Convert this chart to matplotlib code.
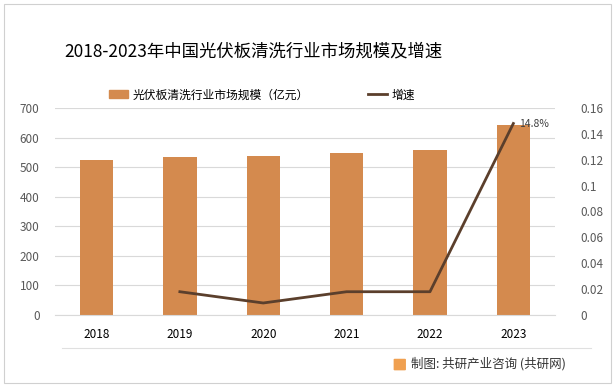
import matplotlib.pyplot as plt
import matplotlib.patches as mpatches
from matplotlib.lines import Line2D

plt.rcParams['font.family'] = ['Noto Sans CJK SC', 'DejaVu Sans']

years = ['2018', '2019', '2020', '2021', '2022', '2023']
scale = [524, 534, 538, 548, 558, 642]
growth_years = ['2019', '2020', '2021', '2022', '2023']
growth = [0.018, 0.0093, 0.018, 0.018, 0.148]

bar_color = '#D48A4E'
line_color = '#5B3F2C'
tick_color = '#595959'

fig = plt.figure(figsize=(6.16, 3.87), dpi=100)
ax = fig.add_axes([0.089, 0.186, 0.812, 0.535])
x = list(range(len(years)))
ax.bar(x, scale, width=0.4, color=bar_color, zorder=2)
ax.set_xlim(-0.5, len(years) - 0.5)
ax.set_ylim(0, 700)
ax.set_yticks(range(0, 701, 100))
ax.set_xticks(x)
ax.set_xticklabels(years, fontsize=8.5, color='black')
ax.tick_params(axis='y', labelsize=8.5, colors=tick_color, length=0, pad=11)
ax.tick_params(axis='x', length=0, pad=9)
ax.grid(axis='y', color='#D9D9D9', linewidth=0.8, zorder=0)
for s in ax.spines.values():
    s.set_visible(False)
ax.spines['bottom'].set_visible(True)
ax.spines['bottom'].set_color('#D9D9D9')

ax2 = ax.twinx()
gx = [years.index(y) for y in growth_years]
ax2.plot(gx, growth, color=line_color, linewidth=2, zorder=3)
ax2.set_ylim(0, 0.16)
ax2.set_yticks([0, 0.02, 0.04, 0.06, 0.08, 0.1, 0.12, 0.14, 0.16])
ax2.set_yticklabels(['0', '0.02', '0.04', '0.06', '0.08', '0.1', '0.12', '0.14', '0.16'])
ax2.tick_params(axis='y', labelsize=8.5, colors=tick_color, length=0, pad=18)
for s in ax2.spines.values():
    s.set_visible(False)
ax2.annotate('14.8%', (gx[-1], growth[-1]), xytext=(4, 0), textcoords='offset points',
             fontsize=7.5, color='#404040', va='center', ha='left')

fig.text(0.412, 0.868, '2018-2023年中国光伏板清洗行业市场规模及增速', fontsize=12.5,
         ha='center', va='center', color='black')

handles = [mpatches.Patch(color=bar_color, label='光伏板清洗行业市场规模（亿元）'),
           Line2D([0], [0], color=line_color, linewidth=2, label='增速')]
fig.legend(handles=handles, loc='center', bbox_to_anchor=(0.425, 0.755), ncol=2,
           frameon=False, fontsize=8.5, columnspacing=5, handlelength=1.6,
           handletextpad=0.4)

# footer
fig.add_artist(Line2D([0.1, 0.96], [0.101, 0.101], color='#E0E0E0', linewidth=0.8))
fig.patches.append(mpatches.FancyBboxPatch((0.641, 0.045), 0.016, 0.026,
                   boxstyle='round,pad=0.002', transform=fig.transFigure,
                   facecolor='#F0A050', edgecolor='none'))
fig.text(0.667, 0.061, '制图: 共研产业咨询 (共研网)', fontsize=9, ha='left',
         va='center', color='#333333')

# outer border
fig.patches.append(mpatches.Rectangle((0.006, 0.01), 0.986, 0.98, transform=fig.transFigure,
                   fill=False, edgecolor='#D0D0D0', linewidth=0.8))

fig.savefig('out.png', dpi=100)
